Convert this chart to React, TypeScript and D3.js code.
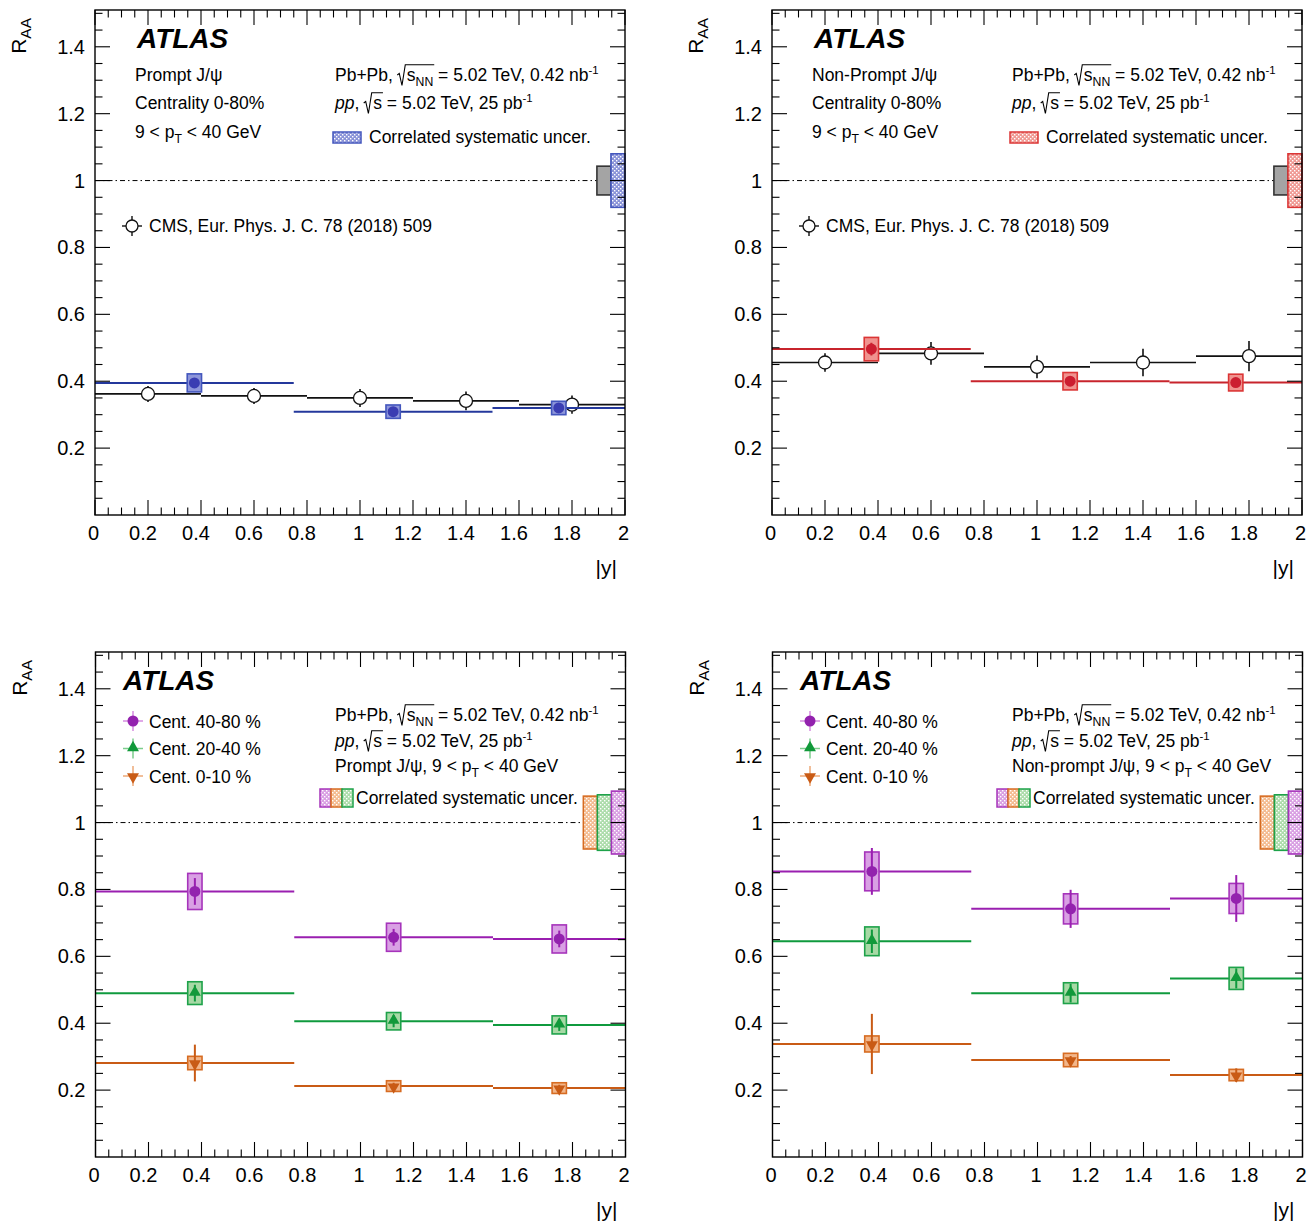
import React, { useRef, useLayoutEffect, useState } from 'react';
import * as d3 from 'd3';

const W = 1315, H = 1231;
const FONT = "'Liberation Sans', Arial, Helvetica, sans-serif";
const PW = 530, PH = 505;

// ---- axis ticks ----
const xTicks = [0, 0.2, 0.4, 0.6, 0.8, 1, 1.2, 1.4, 1.6, 1.8, 2];
const xTickLabels = ['0', '0.2', '0.4', '0.6', '0.8', '1', '1.2', '1.4', '1.6', '1.8', '2'];
const yTicks = [0.2, 0.4, 0.6, 0.8, 1, 1.2, 1.4];
const yTickLabels = ['0.2', '0.4', '0.6', '0.8', '1', '1.2', '1.4'];

// ---- binning ----
const atlasEdges = [0, 0.75, 1.5, 2.0];
const atlasCenters = [0.375, 1.125, 1.75];
const cmsEdges = [0, 0.4, 0.8, 1.2, 1.6, 2.0];
const cmsCenters = [0.2, 0.6, 1.0, 1.4, 1.8];

// ---- top-left: prompt, 0-80% ----
const promptInclVal = [0.395, 0.309, 0.32];
const promptInclStat = [0.008, 0.006, 0.006];
const promptInclSyst = [0.027, 0.02, 0.02];
const cmsPromptVal = [0.362, 0.356, 0.35, 0.341, 0.33];
const cmsPromptErr = [0.024, 0.024, 0.027, 0.028, 0.027];

// ---- top-right: non-prompt, 0-80% ----
const nonpromptInclVal = [0.496, 0.40, 0.396];
const nonpromptInclStat = [0.019, 0.01, 0.01];
const nonpromptInclSyst = [0.035, 0.026, 0.025];
const cmsNonpromptVal = [0.456, 0.483, 0.443, 0.456, 0.475];
const cmsNonpromptErr = [0.028, 0.034, 0.034, 0.041, 0.045];

// ---- bottom-left: prompt, centrality classes ----
const promptC4080Val = [0.794, 0.657, 0.652];
const promptC4080Stat = [0.04, 0.025, 0.025];
const promptC4080Syst = [0.054, 0.042, 0.042];
const promptC2040Val = [0.49, 0.406, 0.395];
const promptC2040Stat = [0.025, 0.018, 0.018];
const promptC2040Syst = [0.034, 0.026, 0.027];
const promptC010Val = [0.281, 0.212, 0.206];
const promptC010Stat = [0.055, 0.01, 0.01];
const promptC010Syst = [0.02, 0.016, 0.016];

// ---- bottom-right: non-prompt, centrality classes ----
const npC4080Val = [0.854, 0.742, 0.773];
const npC4080Stat = [0.07, 0.057, 0.07];
const npC4080Syst = [0.058, 0.045, 0.045];
const npC2040Val = [0.645, 0.49, 0.534];
const npC2040Stat = [0.035, 0.028, 0.03];
const npC2040Syst = [0.043, 0.031, 0.033];
const npC010Val = [0.338, 0.29, 0.245];
const npC010Stat = [0.09, 0.012, 0.02];
const npC010Syst = [0.024, 0.02, 0.017];

// ---- correlated uncertainties (at R_AA = 1) ----
const corrInclGlobal = 0.043;
const corrInclPrompt = 0.08;
const corrInclNonprompt = 0.08;
const corrCent010 = 0.079;
const corrCent2040 = 0.083;
const corrCent4080 = 0.094;

const legendCent = ['Cent. 40-80 %', 'Cent. 20-40 %', 'Cent. 0-10 %'];

const COL: Record<string, any> = {
  blue: { line: '#24389c', mark: '#3a3db2', fill: '#8e96da', edge: '#4356bd', light: '#8a93d8', leg: '#8a93d8' },
  red: { line: '#c8242c', mark: '#cc1e30', fill: '#f0938f', edge: '#db3535', light: '#f09a94', leg: '#f09a94' },
  purple: { line: '#9a1fb0', mark: '#9322ae', fill: '#d9a0e4', edge: '#a634bb', light: '#d99fe3', leg: '#d68be0' },
  green: { line: '#0f9a3e', mark: '#11993a', fill: '#a7d9a5', edge: '#1ea24a', light: '#acdcaa', leg: '#7ccd8c' },
  orange: { line: '#c95b15', mark: '#c95b15', fill: '#f2b68a', edge: '#d76c22', light: '#f4bb90', leg: '#eda877' },
  gray: { fill: '#a4a4a4', edge: '#333333', light: '#a4a4a4' },
};

type Series = { val: number[]; stat: number[]; syst: number[]; color: string; shape: string };

function Marker({ cx, cy, shape, color }: { cx: number; cy: number; shape: string; color: string }) {
  if (shape === 'circle') return <circle cx={cx} cy={cy} r={5.5} fill={color} />;
  const p = d3.symbol(d3.symbolTriangle, 62)() as string;
  const rot = shape === 'down' ? 180 : 0;
  const off = shape === 'down' ? 0.8 : -0.8;
  return <path d={p} transform={`translate(${cx},${cy + off}) rotate(${rot})`} fill={color} />;
}

function RadicalText({ x, y, fs, pre, preItalic, preRest, under, sub, post, sup }: any) {
  const ref = useRef<SVGTextElement>(null);
  const [g, setG] = useState<{ s: number; e: number } | null>(null);
  useLayoutEffect(() => {
    const t = ref.current;
    if (!t) return;
    try {
      const i0 = (pre + preRest).length;
      const iEnd = i0 + under.length + (sub ? sub.length : 0) - 1;
      const s = t.getStartPositionOfChar(i0).x;
      const e = t.getEndPositionOfChar(iEnd).x;
      setG({ s, e });
    } catch (err) {
      /* ignore */
    }
  }, []);
  const top = y - fs * 0.93;
  return (
    <g>
      <text ref={ref} x={x} y={y} fontSize={fs} fontFamily={FONT} fill="#000">
        <tspan fontStyle={preItalic ? 'italic' : 'normal'}>{pre}</tspan>
        <tspan>{preRest}</tspan>
        <tspan dx={9}>{under}</tspan>
        {sub ? <tspan dy={5} fontSize={fs * 0.7}>{sub}</tspan> : null}
        <tspan dy={sub ? -5 : 0}>{post}</tspan>
        <tspan dy={-7} fontSize={fs * 0.65}>{sup}</tspan>
      </text>
      {g && (
        <path
          d={`M${g.s - 9.5},${y - 6} L${g.s - 7.5},${y - 7.5} L${g.s - 4.8},${y + 4.5} L${g.s - 1.5},${top} L${g.e + 1},${top}`}
          fill="none"
          stroke="#000"
          strokeWidth={1.1}
        />
      )}
    </g>
  );
}

function PtText({ x, y, fs, pre }: { x: number; y: number; fs: number; pre: string }) {
  return (
    <text x={x} y={y} fontSize={fs} fontFamily={FONT}>
      <tspan>{pre + '9 < p'}</tspan>
      <tspan dy={5} fontSize={fs * 0.7}>T</tspan>
      <tspan dy={-5}>{' < 40 GeV'}</tspan>
    </text>
  );
}

function Panel(props: {
  L: number; T: number; atlas: Series[]; cms?: { val: number[]; err: number[] };
  corr: { err: number; color: string }[]; kind: 'incl' | 'cent'; particle: string;
}) {
  const { L, T, atlas, cms, corr, kind, particle } = props;
  const x = d3.scaleLinear().domain([0, 2]).range([L, L + PW]);
  const y = d3.scaleLinear().domain([0, 1.51]).range([T + PH, T]);
  const minorX = d3.range(0, 2.0001, 0.05).filter((v) => Math.abs(v * 5 - Math.round(v * 5)) > 1e-6);
  const minorY = d3.range(0.05, 1.5101, 0.05).filter((v) => Math.abs(v * 5 - Math.round(v * 5)) > 1e-6);
  const majorYAll = [0.2, 0.4, 0.6, 0.8, 1.0, 1.2, 1.4];
  const boxHW = 0.027;
  const cw = 0.053;
  const nCorr = corr.length;
  const fs = 17.5;

  return (
    <g>
      {/* dash-dot line at 1 */}
      <line x1={x(0)} x2={x(2)} y1={y(1)} y2={y(1)} stroke="#000" strokeWidth={1} strokeDasharray="5 3 1.5 3" />

      {/* correlated boxes */}
      {corr.map((c, i) => {
        const x0 = x(2 - (nCorr - i) * cw);
        const x1 = x(2 - (nCorr - i - 1) * cw);
        const fill = c.color === 'gray' ? COL.gray.fill : `url(#hatch-${c.color})`;
        return (
          <rect key={'c' + i} x={x0} y={y(1 + c.err)} width={x1 - x0} height={y(1 - c.err) - y(1 + c.err)}
            fill={fill} stroke={c.color === 'gray' ? COL.gray.edge : COL[c.color].edge} strokeWidth={1.6} />
        );
      })}

      {/* CMS */}
      {cms && cms.val.map((v, i) => (
        <g key={'cms' + i}>
          <line x1={x(cmsEdges[i])} x2={x(cmsEdges[i + 1])} y1={y(v)} y2={y(v)} stroke="#111" strokeWidth={1.7} />
          <line x1={x(cmsCenters[i])} x2={x(cmsCenters[i])} y1={y(v - cms.err[i])} y2={y(v + cms.err[i])} stroke="#111" strokeWidth={1.6} />
          <circle cx={x(cmsCenters[i])} cy={y(v)} r={6.5} fill="#fff" stroke="#111" strokeWidth={1.3} />
        </g>
      ))}

      {/* ATLAS */}
      {atlas.map((s, si) => (
        <g key={'s' + si}>
          {s.val.map((v, i) => (
            <line key={'h' + i} x1={x(atlasEdges[i])} x2={x(atlasEdges[i + 1])} y1={y(v)} y2={y(v)} stroke={COL[s.color].line} strokeWidth={2} />
          ))}
          {s.val.map((v, i) => (
            <rect key={'b' + i} x={x(atlasCenters[i] - boxHW)} y={y(v + s.syst[i])} width={2 * (x(boxHW) - x(0))}
              height={y(v - s.syst[i]) - y(v + s.syst[i])} fill={COL[s.color].fill} stroke={COL[s.color].edge} strokeWidth={1.6} />
          ))}
          {s.val.map((v, i) => (
            <line key={'e' + i} x1={x(atlasCenters[i])} x2={x(atlasCenters[i])} y1={y(v - s.stat[i])} y2={y(v + s.stat[i])} stroke={COL[s.color].line} strokeWidth={2} />
          ))}
          {s.val.map((v, i) => (
            <Marker key={'m' + i} cx={x(atlasCenters[i])} cy={y(v)} shape={s.shape} color={COL[s.color].mark} />
          ))}
        </g>
      ))}

      {/* frame */}
      <rect x={L} y={T} width={PW} height={PH} fill="none" stroke="#000" strokeWidth={1.4} />

      {/* ticks */}
      {xTicks.map((v) => (
        <g key={'xt' + v}>
          <line x1={x(v)} x2={x(v)} y1={T + PH} y2={T + PH - 15} stroke="#000" strokeWidth={1.1} />
          <line x1={x(v)} x2={x(v)} y1={T} y2={T + 15} stroke="#000" strokeWidth={1.1} />
        </g>
      ))}
      {minorX.map((v) => (
        <g key={'xm' + v}>
          <line x1={x(v)} x2={x(v)} y1={T + PH} y2={T + PH - 7.5} stroke="#000" strokeWidth={1.1} />
          <line x1={x(v)} x2={x(v)} y1={T} y2={T + 7.5} stroke="#000" strokeWidth={1.1} />
        </g>
      ))}
      {majorYAll.map((v) => (
        <g key={'yt' + v}>
          <line x1={L} x2={L + 15} y1={y(v)} y2={y(v)} stroke="#000" strokeWidth={1.1} />
          <line x1={L + PW} x2={L + PW - 15} y1={y(v)} y2={y(v)} stroke="#000" strokeWidth={1.1} />
        </g>
      ))}
      {minorY.map((v) => (
        <g key={'ym' + v}>
          <line x1={L} x2={L + 7.5} y1={y(v)} y2={y(v)} stroke="#000" strokeWidth={1.1} />
          <line x1={L + PW} x2={L + PW - 7.5} y1={y(v)} y2={y(v)} stroke="#000" strokeWidth={1.1} />
        </g>
      ))}

      {/* tick labels */}
      {xTicks.map((v, i) => (
        <text key={'xl' + v} x={x(v) - (xTickLabels[i].length > 1 ? 5 : 1.5)} y={T + PH + 25} fontSize={20} fontFamily={FONT} textAnchor="middle">{xTickLabels[i]}</text>
      ))}
      {yTicks.map((v, i) => (
        <text key={'yl' + v} x={L - 10} y={y(v) + 7} fontSize={20} fontFamily={FONT} textAnchor="end">{yTickLabels[i]}</text>
      ))}

      {/* axis titles */}
      <text transform={`translate(${L - 69},${T + 8}) rotate(-90)`} fontSize={21} fontFamily={FONT} textAnchor="end">
        <tspan>R</tspan>
        <tspan dy={5} fontSize={15.5}>AA</tspan>
      </text>
      <text x={L + 522} y={T + 565} fontSize={21} fontFamily={FONT} textAnchor="end">|y|</text>

      {kind === 'incl' ? (
        <g>
          <text x={L + 42} y={T + 38} fontSize={28} fontWeight="bold" fontStyle="italic" fontFamily={FONT}>ATLAS</text>
          <text x={L + 40} y={T + 71} fontSize={fs} fontFamily={FONT}>{particle + ' J/ψ'}</text>
          <text x={L + 40} y={T + 99} fontSize={fs} fontFamily={FONT}>Centrality 0-80%</text>
          <PtText x={L + 40} y={T + 128} fs={fs} pre="" />
          <RadicalText x={L + 240} y={T + 71} fs={fs} pre="Pb+Pb," preItalic={false} preRest=" " under="s" sub="NN" post=" = 5.02 TeV, 0.42 nb" sup="-1" />
          <RadicalText x={L + 240} y={T + 99} fs={fs} pre="pp" preItalic={true} preRest=", " under="s" sub="" post=" = 5.02 TeV, 25 pb" sup="-1" />
          <rect x={L + 238} y={T + 122} width={28} height={11} fill={`url(#hatch-${corr[1].color})`} stroke={COL[corr[1].color].edge} strokeWidth={1.5} />
          <text x={L + 274} y={T + 133} fontSize={fs} fontFamily={FONT}>Correlated systematic uncer.</text>
          {/* CMS legend */}
          <line x1={L + 27} x2={L + 47} y1={T + 216} y2={T + 216} stroke="#111" strokeWidth={1.4} />
          <line x1={L + 37} x2={L + 37} y1={T + 206} y2={T + 226} stroke="#111" strokeWidth={1.4} />
          <circle cx={L + 37} cy={T + 216} r={6} fill="#fff" stroke="#111" strokeWidth={1.3} />
          <text x={L + 54} y={T + 222} fontSize={fs} fontFamily={FONT}>CMS, Eur. Phys. J. C. 78 (2018) 509</text>
        </g>
      ) : (
        <g>
          <text x={L + 27.5} y={T + 38} fontSize={28} fontWeight="bold" fontStyle="italic" fontFamily={FONT}>ATLAS</text>
          {atlas.map((s, i) => {
            const cy = T + 69 + i * 27.5;
            return (
              <g key={'lg' + i}>
                <line x1={L + 27.5} x2={L + 47.5} y1={cy} y2={cy} stroke={COL[s.color].leg} strokeWidth={1.5} />
                <line x1={L + 37.5} x2={L + 37.5} y1={cy - 10} y2={cy + 10} stroke={COL[s.color].leg} strokeWidth={1.5} />
                <Marker cx={L + 37.5} cy={cy} shape={s.shape} color={COL[s.color].mark} />
                <text x={L + 53.5} y={cy + 6.5} fontSize={fs} fontFamily={FONT}>{legendCent[i]}</text>
              </g>
            );
          })}
          <RadicalText x={L + 239.5} y={T + 69} fs={fs} pre="Pb+Pb," preItalic={false} preRest=" " under="s" sub="NN" post=" = 5.02 TeV, 0.42 nb" sup="-1" />
          <RadicalText x={L + 239.5} y={T + 95} fs={fs} pre="pp" preItalic={true} preRest=", " under="s" sub="" post=" = 5.02 TeV, 25 pb" sup="-1" />
          <PtText x={L + 239.5} y={T + 120} fs={fs} pre={particle + ' J/ψ, '} />
          {['purple', 'orange', 'green'].map((c, i) => (
            <rect key={'sw' + c} x={L + 224.5 + i * 11} y={T + 137} width={11} height={18} fill={`url(#hatch-${c})`} stroke={COL[c].edge} strokeWidth={1.5} />
          ))}
          <text x={L + 260.5} y={T + 152} fontSize={fs} fontFamily={FONT}>Correlated systematic uncer.</text>
        </g>
      )}
    </g>
  );
}

function Hatch({ id, light }: { id: string; light: string }) {
  return (
    <pattern id={id} width={4} height={4} patternUnits="userSpaceOnUse">
      <rect width={4} height={4} fill={light} />
      <rect x={0} y={0} width={1.4} height={1.4} fill="#fff" />
      <rect x={2} y={2} width={1.4} height={1.4} fill="#fff" />
    </pattern>
  );
}

export default function App() {
  const centPrompt: Series[] = [
    { val: promptC4080Val, stat: promptC4080Stat, syst: promptC4080Syst, color: 'purple', shape: 'circle' },
    { val: promptC2040Val, stat: promptC2040Stat, syst: promptC2040Syst, color: 'green', shape: 'up' },
    { val: promptC010Val, stat: promptC010Stat, syst: promptC010Syst, color: 'orange', shape: 'down' },
  ];
  const centNonprompt: Series[] = [
    { val: npC4080Val, stat: npC4080Stat, syst: npC4080Syst, color: 'purple', shape: 'circle' },
    { val: npC2040Val, stat: npC2040Stat, syst: npC2040Syst, color: 'green', shape: 'up' },
    { val: npC010Val, stat: npC010Stat, syst: npC010Syst, color: 'orange', shape: 'down' },
  ];
  const corrCent = [
    { err: corrCent010, color: 'orange' },
    { err: corrCent2040, color: 'green' },
    { err: corrCent4080, color: 'purple' },
  ];
  return (
    <svg width={W} height={H} viewBox={`0 0 ${W} ${H}`} style={{ position: 'absolute', left: 0, top: 0, background: '#fff' }}>
      <defs>
        {['blue', 'red', 'purple', 'green', 'orange'].map((c) => (
          <Hatch key={c} id={`hatch-${c}`} light={COL[c].light} />
        ))}
      </defs>
      <rect width={W} height={H} fill="#fff" />
      <Panel L={95} T={10} kind="incl" particle="Prompt"
        atlas={[{ val: promptInclVal, stat: promptInclStat, syst: promptInclSyst, color: 'blue', shape: 'circle' }]}
        cms={{ val: cmsPromptVal, err: cmsPromptErr }}
        corr={[{ err: corrInclGlobal, color: 'gray' }, { err: corrInclPrompt, color: 'blue' }]} />
      <Panel L={772} T={10} kind="incl" particle="Non-Prompt"
        atlas={[{ val: nonpromptInclVal, stat: nonpromptInclStat, syst: nonpromptInclSyst, color: 'red', shape: 'circle' }]}
        cms={{ val: cmsNonpromptVal, err: cmsNonpromptErr }}
        corr={[{ err: corrInclGlobal, color: 'gray' }, { err: corrInclNonprompt, color: 'red' }]} />
      <Panel L={95.5} T={652} kind="cent" particle="Prompt" atlas={centPrompt} corr={corrCent} />
      <Panel L={772.5} T={652} kind="cent" particle="Non-prompt" atlas={centNonprompt} corr={corrCent} />
    </svg>
  );
}
